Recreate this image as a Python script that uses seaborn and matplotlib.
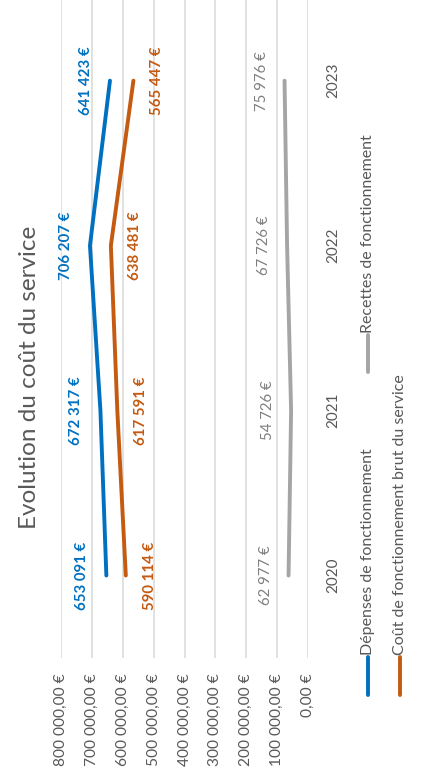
import matplotlib
matplotlib.use("Agg")
import matplotlib.pyplot as plt
from matplotlib.lines import Line2D
import pandas as pd
import seaborn as sns

# Data
annees = [2020, 2021, 2022, 2023]
depenses = [653091, 672317, 706207, 641423]
cout_brut = [590114, 617591, 638481, 565447]
recettes = [62977, 54726, 67726, 75976]
series = ["Dépenses de fonctionnement", "Recettes de fonctionnement",
          "Coût de fonctionnement brut du service"]
valeurs_axe = [0, 100000, 200000, 300000, 400000, 500000, 600000, 700000, 800000]

couleurs = {series[0]: "#0070C0", series[1]: "#A5A5A5", series[2]: "#C55A11"}
couleurs_etiquettes = {series[0]: "#0070C0", series[1]: "#7F7F7F", series[2]: "#C55A11"}

df = pd.DataFrame({
    "annee": annees * 3,
    "valeur": depenses + recettes + cout_brut,
    "serie": [series[0]] * 4 + [series[1]] * 4 + [series[2]] * 4,
})

sns.set_theme(style="white")
plt.rcParams["font.family"] = ["Lato", "DejaVu Sans"]

W, H = 425, 779
fig = plt.figure(figsize=(W / 100, H / 100), dpi=100)
ax = fig.add_axes([61 / W, 121 / H, (308 - 61) / W, 0.847])

sns.lineplot(data=df, x="valeur", y="annee", hue="serie", orient="y",
             palette=couleurs, linewidth=2.8, legend=False, ax=ax,
             estimator=None, sort=True)
for ln in ax.lines:
    ln.set_solid_capstyle("round")
    ln.set_solid_joinstyle("round")

ax.set_xlim(800000, 0)
ax.set_ylim(2019.5, 2023.5)
ax.set_xticks(valeurs_axe)
ax.set_xticklabels([f"{v:,}".replace(",", " ") + ",00 €" for v in valeurs_axe],
                   rotation=90, va="top", ha="center", fontsize=11.2, color="#595959")
ax.tick_params(axis="x", length=0, pad=11)
ax.set_yticks(annees)
ax.yaxis.tick_right()
ax.set_yticklabels([str(a) for a in annees], rotation=90, va="center", ha="left",
                   fontsize=11, color="#595959")
ax.tick_params(axis="y", length=0, pad=13)
ax.grid(axis="x", color="#D9D9D9", linewidth=1.1)
ax.grid(axis="y", visible=False)
for s in ax.spines.values():
    s.set_visible(False)
ax.set_xlabel("")
ax.set_ylabel("")

# Data labels
decalages = {series[0]: -24, series[1]: -23, series[2]: 24}
graisses = {series[0]: "bold", series[1]: "normal", series[2]: "bold"}
for nom, vals in zip(series, [depenses, recettes, cout_brut]):
    for a, v in zip(annees, vals):
        ax.annotate(f"{v:,}".replace(",", " ") + " €", xy=(v, a),
                    xytext=(decalages[nom], 0), textcoords="offset pixels",
                    rotation=90, ha="center", va="center", fontsize=10.8,
                    fontweight=graisses[nom], color=couleurs_etiquettes[nom])

# Title
fig.text(30 / W, 1 - 377 / H, "Evolution du coût du service", rotation=90,
         ha="center", va="center", fontsize=17.5, color="#595959")

# Legend
legende = [(series[0], 368, 695, 657), (series[2], 400, 695, 657),
           (series[1], 368, 372, 335)]
for nom, x, y0, y1 in legende:
    fig.add_artist(Line2D([x / W, x / W], [1 - y0 / H, 1 - y1 / H],
                          transform=fig.transFigure, color=couleurs[nom],
                          linewidth=2.8, solid_capstyle="round"))
    fig.text(x / W, 1 - (y1 - 2) / H, nom, rotation=90, ha="center", va="bottom",
             fontsize=11.5, color="#595959")

fig.savefig("out.png", dpi=100)
